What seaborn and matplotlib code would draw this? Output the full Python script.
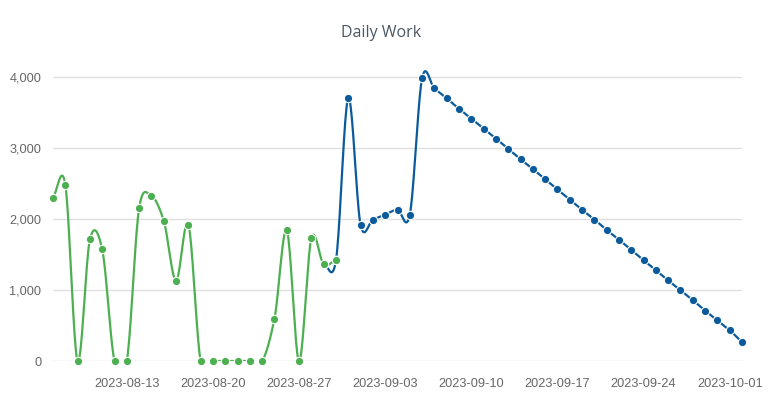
import numpy as np
import pandas as pd
import matplotlib
matplotlib.use("Agg")
import matplotlib.pyplot as plt
import matplotlib.dates as mdates
from matplotlib.ticker import FuncFormatter
import seaborn as sns

# ---- data ----
green_start = "2023-08-07"
green_values = [2300, 2480, 0, 1710, 1570, 0, 0, 2150, 2320, 1975, 1130, 1920,
                0, 0, 0, 0, 0, 0, 595, 1840, 0, 1730, 1360, 1420]
blue_start = "2023-08-29"
blue_values = [1360, 1420, 3700, 1915, 1990, 2060, 2130, 2060, 3980,
               3835, 3695, 3550, 3410, 3270, 3130, 2985, 2840, 2700, 2560,
               2415, 2270, 2130, 1990, 1845, 1705, 1565, 1420, 1275, 1135,
               995, 855, 710, 570, 430, 265]
x_ticks = ["2023-08-13", "2023-08-20", "2023-08-27", "2023-09-03",
           "2023-09-10", "2023-09-17", "2023-09-24", "2023-10-01"]
y_ticks = [0, 1000, 2000, 3000, 4000]
title = "Daily Work"

GREEN = "#4caf50"
BLUE = "#0b5b9c"

green_df = pd.DataFrame({"date": pd.date_range(green_start, periods=len(green_values), freq="D"),
                         "value": green_values})
blue_df = pd.DataFrame({"date": pd.date_range(blue_start, periods=len(blue_values), freq="D"),
                        "value": blue_values})


def smooth(df, n=20, k=0.92):
    # cubic Hermite (Catmull-Rom) curve through the points, for drawing only
    x = mdates.date2num(df["date"])
    y = np.asarray(df["value"], dtype=float)
    m = np.empty_like(y)
    m[1:-1] = k * (y[2:] - y[:-2]) / (x[2:] - x[:-2])
    m[0] = (y[1] - y[0]) / (x[1] - x[0])
    m[-1] = (y[-1] - y[-2]) / (x[-1] - x[-2])
    xs, ys = [], []
    for i in range(len(x) - 1):
        h = x[i + 1] - x[i]
        t = np.linspace(0, 1, n, endpoint=False)
        h00 = 2 * t**3 - 3 * t**2 + 1
        h10 = t**3 - 2 * t**2 + t
        h01 = -2 * t**3 + 3 * t**2
        h11 = t**3 - t**2
        xs.append(x[i] + t * h)
        ys.append(h00 * y[i] + h10 * h * m[i] + h01 * y[i + 1] + h11 * h * m[i + 1])
    xs.append([x[-1]])
    ys.append([y[-1]])
    return pd.DataFrame({"date": mdates.num2date(np.concatenate(xs)),
                         "value": np.concatenate(ys)})


sns.set_theme(style="white")
plt.rcParams["font.family"] = ["Liberation Sans", "DejaVu Sans"]

fig = plt.figure(figsize=(7.72, 4.03), dpi=100)
ax = fig.add_axes([53 / 772, 42 / 403, 689 / 772, 302 / 403])

for df, col, z in [(blue_df, BLUE, 2), (green_df, GREEN, 4)]:
    sc = smooth(df)
    sns.lineplot(data=sc, x="date", y="value", ax=ax, color=col, linewidth=1.6,
                 zorder=z, estimator=None, sort=False)
    sns.scatterplot(data=df, x="date", y="value", ax=ax, color=col, s=36,
                    edgecolor="white", linewidth=0.8, zorder=z + 1, clip_on=False)

ax.set_xlim(mdates.date2num(green_df["date"].iloc[0]), mdates.date2num(blue_df["date"].iloc[-1]))
ax.set_ylim(0, 4250)
ax.set_yticks(y_ticks)
ax.yaxis.set_major_formatter(FuncFormatter(lambda v, p: f"{int(v):,}"))
ax.set_xticks(mdates.date2num(pd.to_datetime(x_ticks)))
ax.set_xticklabels(x_ticks)
ax.grid(axis="y", color="#e0e0e0", linewidth=1)
ax.grid(axis="x", visible=False)
for s in ax.spines.values():
    s.set_visible(False)
ax.tick_params(axis="both", length=0, labelsize=9.2, labelcolor="#666666")
ax.tick_params(axis="y", pad=8.5)
ax.tick_params(axis="x", pad=12)
ax.set_xlabel("")
ax.set_ylabel("")
fig.text(381 / 772, 1 - 33 / 403, title, ha="center", va="center", fontsize=11.5,
         color="#4b5763", family=["Open Sans", "DejaVu Sans"])

fig.savefig("out.png", dpi=100, facecolor="white")
